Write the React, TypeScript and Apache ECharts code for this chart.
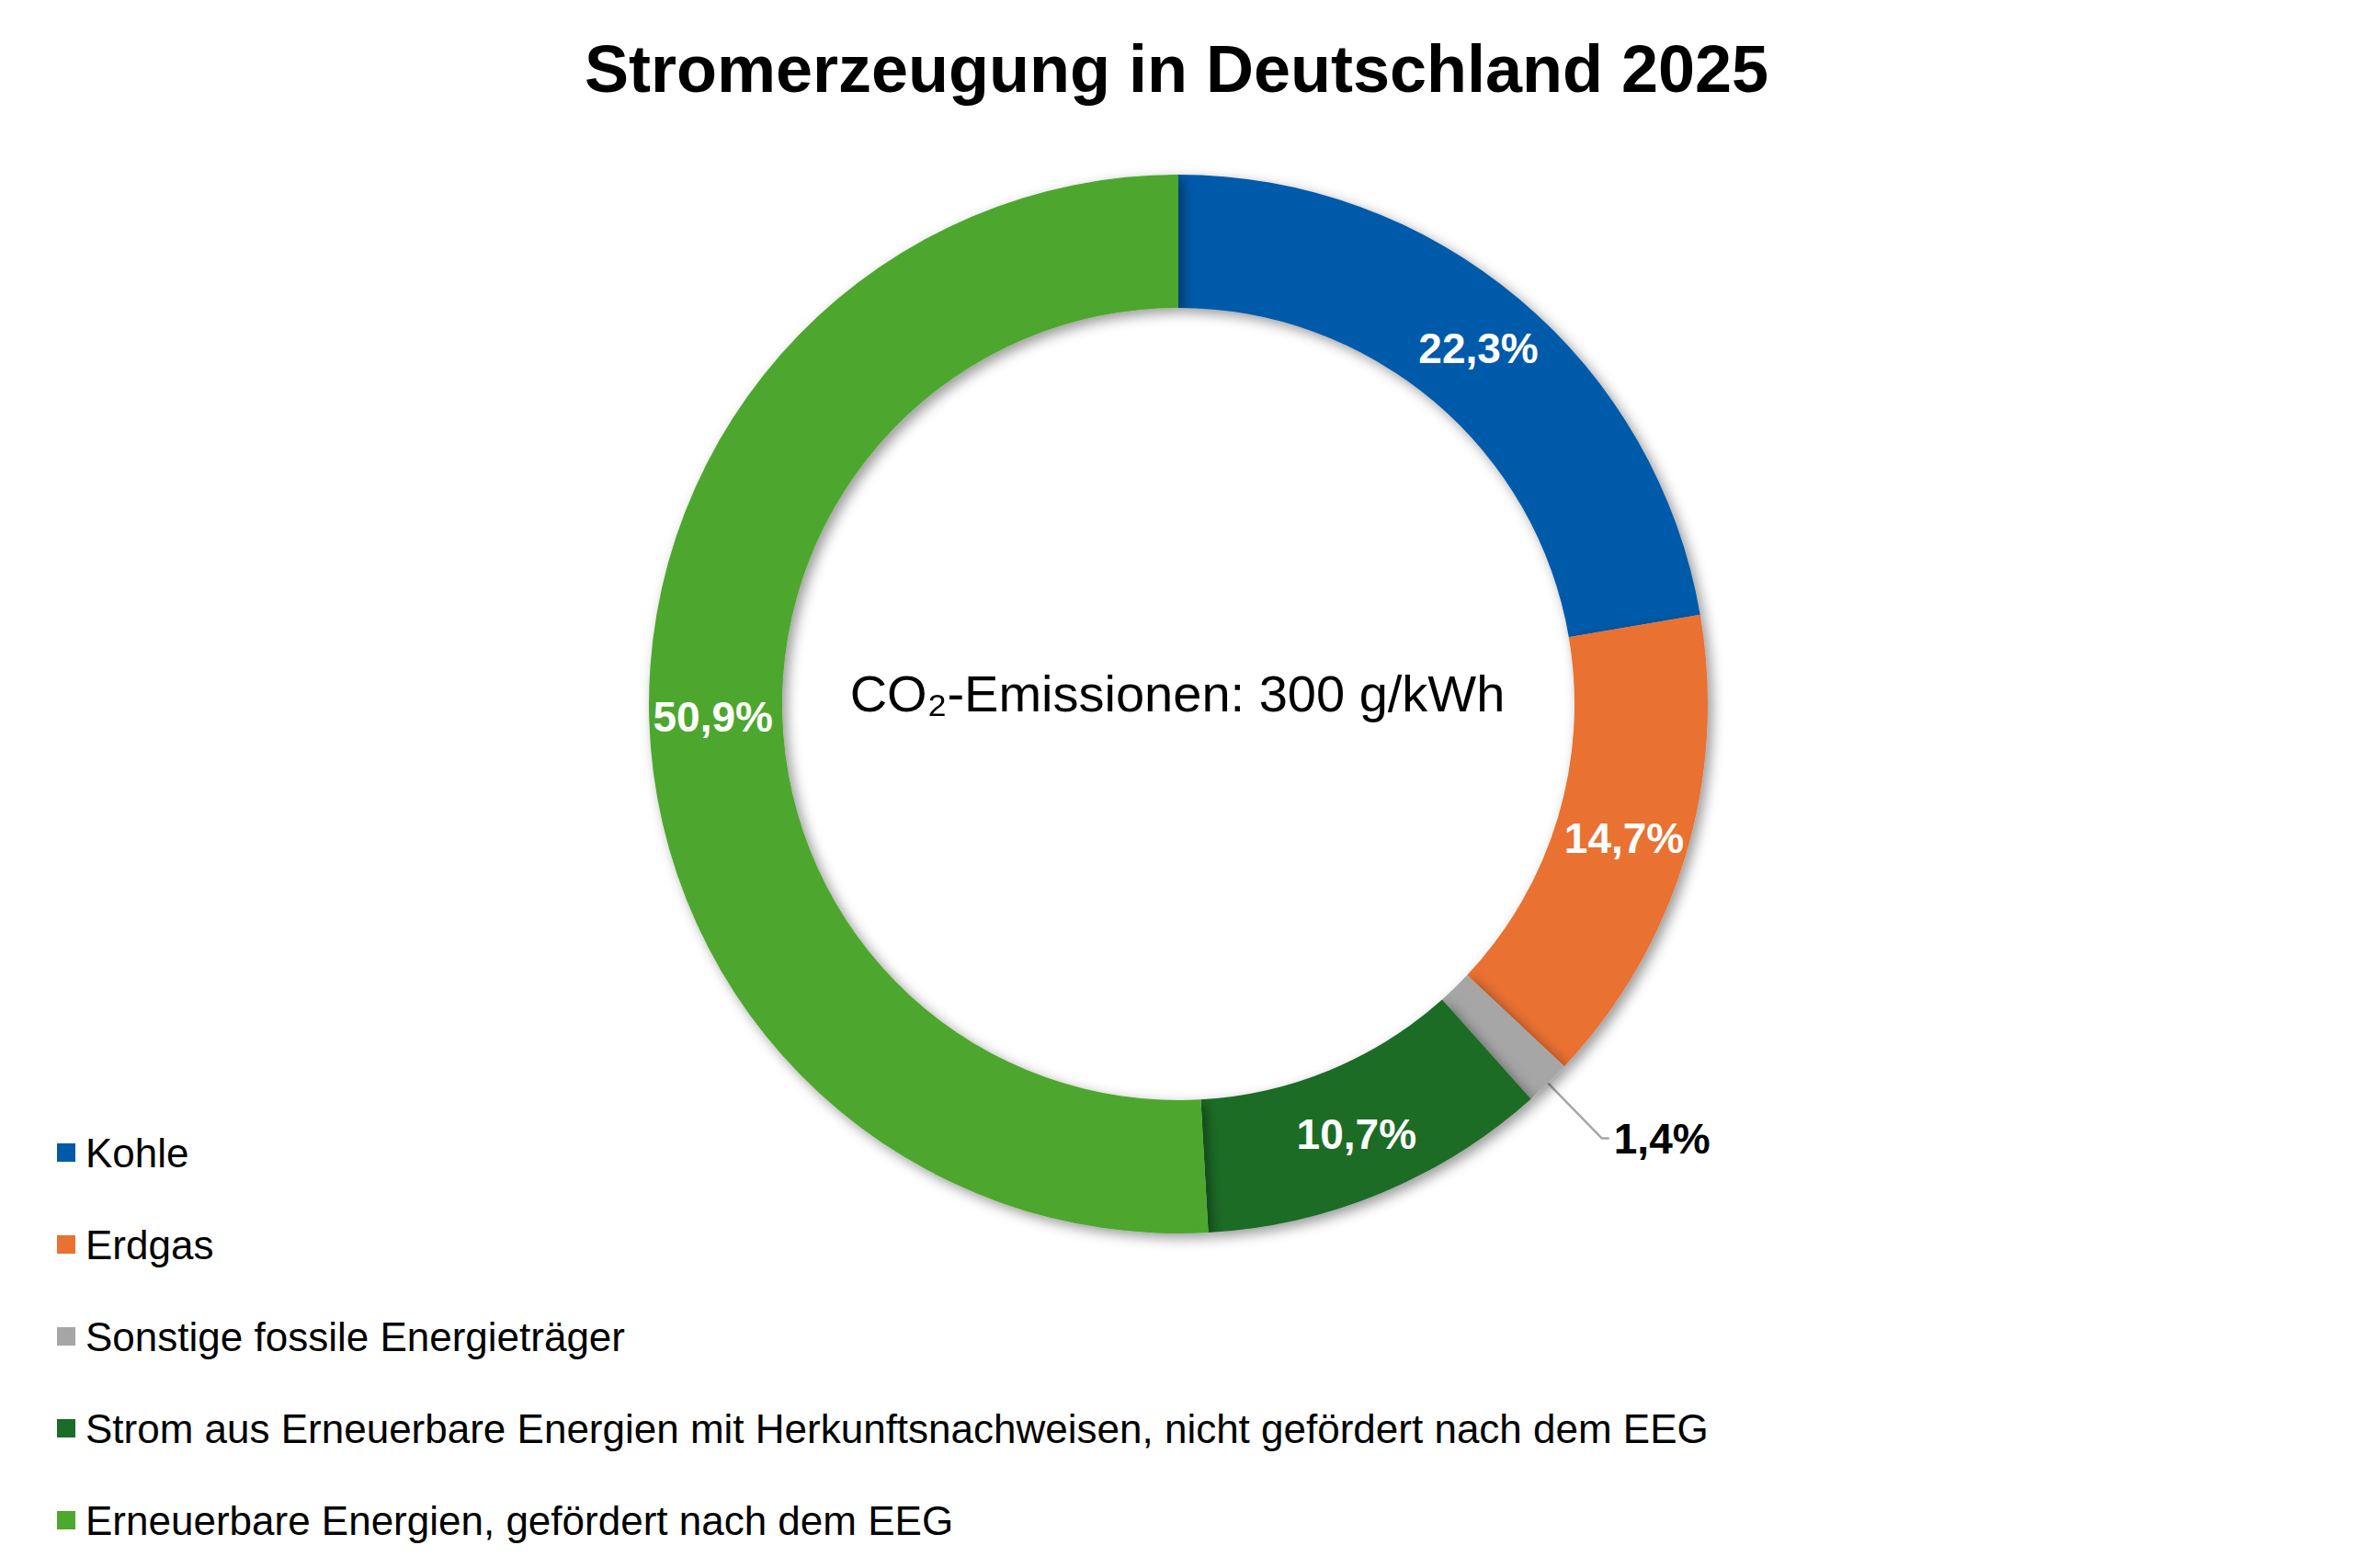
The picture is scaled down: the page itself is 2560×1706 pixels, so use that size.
import React, { useEffect, useRef } from "react";
import * as echarts from "echarts";

// Anteile der Stromerzeugung in Prozent
const categories = [
  "Kohle",
  "Erdgas",
  "Sonstige fossile Energieträger",
  "Strom aus Erneuerbare Energien mit Herkunftsnachweisen, nicht gefördert nach dem EEG",
  "Erneuerbare Energien, gefördert nach dem EEG",
];
const shares = [22.3, 14.7, 1.4, 10.7, 50.9];
const colors = ["#005AAA", "#E97132", "#A6A6A6", "#1B6C27", "#4EA72E"];
// Segmente, deren Beschriftung außerhalb des Rings steht
const outsideLabels = ["Sonstige fossile Energieträger"];

const titleText = "Stromerzeugung in Deutschland 2025";
const centerText = "CO₂-Emissionen: 300 g/kWh";

const FONT = "'Liberation Sans', Arial, Helvetica, sans-serif";

const fmt = (v: number) => v.toFixed(1).replace(".", ",") + "%";

export default function App() {
  const ref = useRef<HTMLDivElement>(null);

  useEffect(() => {
    document.body.style.margin = "0";
    if (!ref.current) return;
    const chart = echarts.init(ref.current, null, { renderer: "svg" });

    const data = categories.map((name, i) => {
      const outside = outsideLabels.includes(name);
      return {
        name,
        value: shares[i],
        itemStyle: { color: colors[i] },
        label: outside
          ? {
              position: "outside",
              color: "#000000",
              padding: [20, 0, 0, 0],
            }
          : { position: "inside", color: "#ffffff" },
        labelLine: outside
          ? {
              show: true,
              length: 84,
              length2: 8,
              lineStyle: { color: "#A6A6A6", width: 2.5 },
            }
          : { show: false },
      };
    });

    chart.setOption({
      animation: false,
      backgroundColor: "#ffffff",
      title: {
        text: titleText,
        left: "center",
        top: 34,
        textStyle: {
          fontFamily: FONT,
          fontWeight: "bold",
          fontSize: 72,
          color: "#000000",
        },
      },
      legend: {
        orient: "vertical",
        left: 57,
        top: 1224,
        icon: "rect",
        itemWidth: 20,
        itemHeight: 20,
        itemGap: 50,
        selectedMode: false,
        data: categories,
        textStyle: {
          fontFamily: FONT,
          fontSize: 44,
          lineHeight: 50,
          color: "#000000",
          padding: [0, 0, 0, 6],
        },
      },
      graphic: [
        {
          type: "text",
          x: 1281,
          y: 754,
          style: {
            text: centerText,
            align: "center",
            verticalAlign: "middle",
            fontFamily: FONT,
            fontSize: 56,
            fill: "#000000",
          },
        },
      ],
      series: [
        {
          type: "pie",
          center: [1282, 766],
          radius: [431, 576],
          startAngle: 90,
          clockwise: true,
          avoidLabelOverlap: false,
          itemStyle: {
            borderWidth: 0,
            shadowBlur: 14,
            shadowOffsetX: 5,
            shadowOffsetY: 5,
            shadowColor: "rgba(0,0,0,0.4)",
          },
          label: {
            show: true,
            formatter: (p: any) => fmt(p.value),
            fontFamily: FONT,
            fontWeight: "bold",
            fontSize: 46,
          },
          emphasis: { disabled: true },
          data,
        },
      ],
    });

    return () => chart.dispose();
  }, []);

  return <div ref={ref} style={{ width: 2560, height: 1706 }} />;
}
